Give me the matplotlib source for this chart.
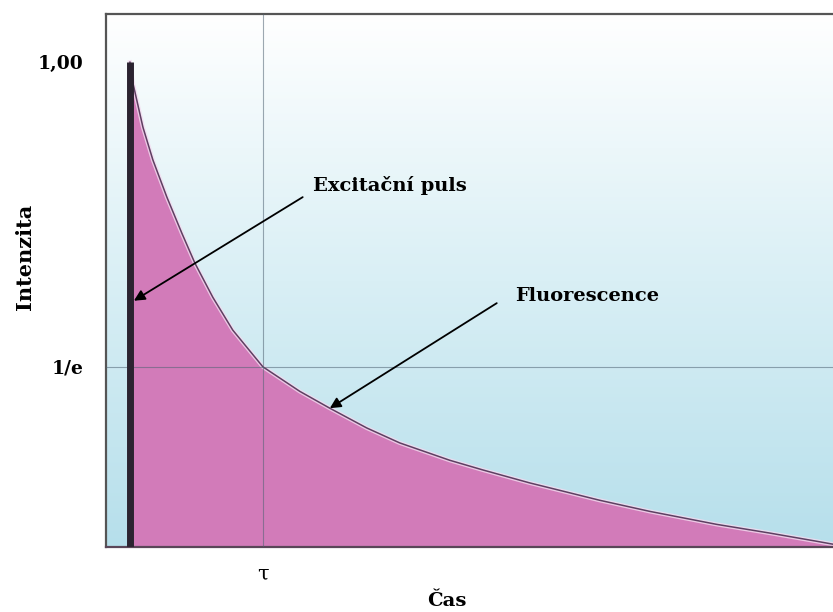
import numpy as np
import matplotlib.pyplot as plt
from matplotlib.colors import LinearSegmentedColormap

# time in units of tau, intensity normalised to the peak
time = [0.0, 0.023, 0.098, 0.173, 0.278, 0.391, 0.489, 0.624, 0.774, 1.0,
        1.278, 1.504, 1.782, 2.03, 2.406, 2.654, 3.008, 3.286, 3.534, 3.91,
        4.414, 4.812, 5.165, 5.286]
intensity = [1.0, 0.956, 0.865, 0.797, 0.720, 0.645, 0.583, 0.512, 0.444, 0.368,
             0.317, 0.282, 0.241, 0.210, 0.174, 0.154, 0.127, 0.108, 0.091, 0.068,
             0.041, 0.023, 0.006, 0.0]
tau = 1.0
pulse_height = 1.0
ytick_values = [1.0, 1 / np.e]
ytick_labels = ['1,00', '1/e']
xtick_values = [tau]
xtick_labels = ['τ']
pulse_label = 'Excitační puls'
fluor_label = 'Fluorescence'

W, H = 833, 612
fig = plt.figure(figsize=(W / 100, H / 100), dpi=100)
ax = fig.add_axes([106 / W, 65 / H, (W - 106) / W, 533 / H])

xmin, xmax = -0.18, 5.29
ymin, ymax = -0.006, 1.1

# background gradient, white on top to pale blue at the bottom
cmap = LinearSegmentedColormap.from_list('bg', ['#b6dfeb', '#d9eff5', '#ffffff'])
grad = np.linspace(0, 1, 256).reshape(-1, 1)
ax.imshow(grad, extent=[xmin, xmax, ymin, ymax], origin='lower', aspect='auto',
          cmap=cmap, zorder=0)

ax.fill_between(time, intensity, ymin, color='#d27bb9', lw=0, zorder=1)
ax.plot(time, intensity, color='#f3dcf0', lw=3, alpha=0.8, zorder=2)
ax.plot(time, intensity, color='#5e3f62', lw=1.1, zorder=3)

# guide lines at tau and 1/e
ax.axvline(tau, color='#4f6272', lw=0.8, alpha=0.55, zorder=4)
ax.axhline(1 / np.e, color='#4f6272', lw=0.8, alpha=0.55, zorder=4)

# excitation pulse
ax.vlines(0, ymin, pulse_height, color='#2b2330', lw=5, zorder=5, capstyle='butt')

ax.set_xlim(xmin, xmax)
ax.set_ylim(ymin, ymax)

lab_font = dict(family='DejaVu Serif', weight='bold', size=14)
ax.set_yticks(ytick_values)
ax.set_yticklabels(ytick_labels, family='DejaVu Serif', weight='bold', size=13.5)
ax.set_xticks(xtick_values)
ax.set_xticklabels(xtick_labels, family='DejaVu Serif', size=15)
ax.tick_params(axis='y', length=0, pad=16)
ax.tick_params(axis='x', length=0, pad=13)

for side in ['left', 'top']:
    ax.spines[side].set_color('#555555')
    ax.spines[side].set_linewidth(1.6)
ax.spines['bottom'].set_color('#5a4658')
ax.spines['bottom'].set_linewidth(1.6)
ax.spines['right'].set_visible(False)

arrow = dict(arrowstyle='-|>', color='black', lw=1.3, mutation_scale=16,
             shrinkA=0, shrinkB=0)
ax.annotate('', xy=(0.03, 0.505), xytext=(1.30, 0.72), arrowprops=arrow, zorder=6)
ax.text(1.376, 0.745, pulse_label, ha='left', va='center', **lab_font, zorder=6)
ax.annotate('', xy=(time[11], intensity[11]), xytext=(2.76, 0.50), arrowprops=arrow, zorder=6)
ax.text(2.895, 0.515, fluor_label, ha='left', va='center', **lab_font, zorder=6)

fig.text(447 / W, 1 - 601 / H, 'Čas', ha='center', va='center', **lab_font)
fig.text(25 / W, 1 - 257 / H, 'Intenzita', ha='center', va='center', rotation=90,
         family='DejaVu Serif', weight='bold', size=15)

fig.savefig('out.png', dpi=100)
